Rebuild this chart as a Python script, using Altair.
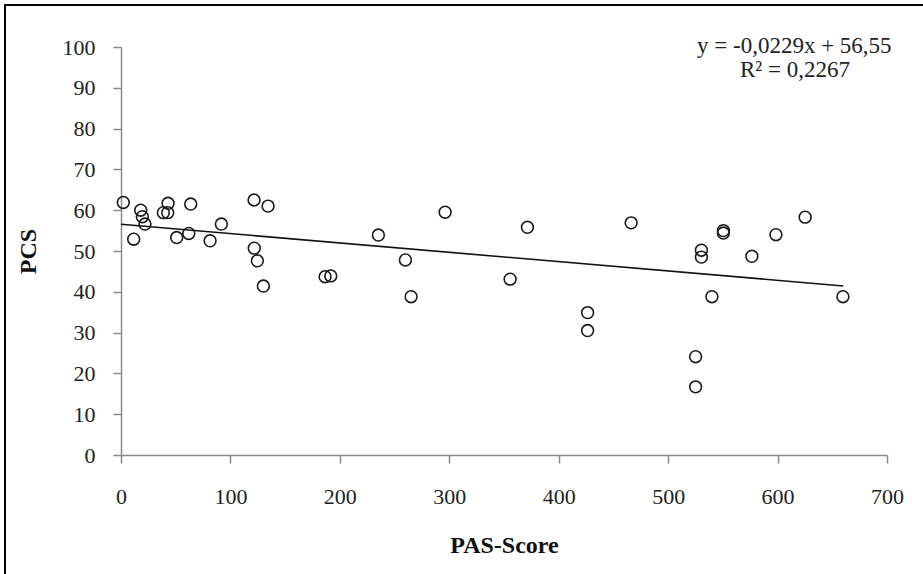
import altair as alt
import pandas as pd

# ---- data ----
pas_score = [2.1, 11.6, 18.0, 19.5, 21.9, 38.7, 43.0, 42.7, 50.9, 61.9,
             63.7, 81.4, 91.7, 121.6, 121.8, 124.6, 130.1, 134.4, 186.5, 191.7,
             235.2, 259.9, 265.1, 296.2, 355.6, 371.4, 426.4, 426.4, 466.2, 525.1,
             525.1, 530.4, 530.4, 540.0, 550.5, 550.5, 576.5, 598.5, 625.2, 659.7]
pcs = [61.9, 52.9, 60.0, 58.4, 56.6, 59.4, 61.7, 59.4, 53.3, 54.3,
       61.5, 52.5, 56.6, 62.5, 50.7, 47.6, 41.4, 61.0, 43.7, 43.9,
       53.9, 47.8, 38.8, 59.5, 43.1, 55.8, 34.9, 30.5, 56.9, 24.1,
       16.7, 50.2, 48.5, 38.8, 55.0, 54.4, 48.7, 54.0, 58.3, 38.8]

slope = -0.0229
intercept = 56.55
trend_x = [0, 660]
trend_y = [intercept + slope * v for v in trend_x]

x_ticks = [0, 100, 200, 300, 400, 500, 600, 700]
y_ticks = [0, 10, 20, 30, 40, 50, 60, 70, 80, 90, 100]
equation_text = ["y = -0,0229x + 56,55"]
r2_text = ["R\u00b2 = 0,2267"]

FONT = "Liberation Serif"

points_df = pd.DataFrame({"PAS": pas_score, "PCS": pcs})
trend_df = pd.DataFrame({"PAS": trend_x, "PCS": trend_y})

xscale = alt.Scale(domain=[0, 700], nice=False, zero=False)
yscale = alt.Scale(domain=[0, 100], nice=False, zero=False)

xaxis = alt.Axis(values=x_ticks, title="PAS-Score", grid=False, tickSize=8,
                 labelPadding=23, titlePadding=26, labelFlush=False)
yaxis = alt.Axis(values=y_ticks, title="PCS", grid=False, tickSize=8,
                 labelPadding=18, titlePadding=22)

pts = alt.Chart(points_df).mark_point(
    shape="circle", filled=False, size=140, strokeWidth=1.6, color="#1a1a1a", opacity=1
).encode(
    x=alt.X("PAS:Q", scale=xscale, axis=xaxis),
    y=alt.Y("PCS:Q", scale=yscale, axis=yaxis),
)

line = alt.Chart(trend_df).mark_line(color="#111111", strokeWidth=1.6).encode(
    x=alt.X("PAS:Q", scale=xscale),
    y=alt.Y("PCS:Q", scale=yscale),
)

eq = alt.Chart(pd.DataFrame({"t": equation_text})).mark_text(
    align="left", baseline="middle", font=FONT, fontSize=23, color="#222222"
).encode(text="t:N", x=alt.value(576), y=alt.value(-1))

r2 = alt.Chart(pd.DataFrame({"t": r2_text})).mark_text(
    align="left", baseline="middle", font=FONT, fontSize=23, color="#222222"
).encode(text="t:N", x=alt.value(619), y=alt.value(23))

frame_left = alt.Chart(pd.DataFrame({"a": [0]})).mark_rule(color="black", strokeWidth=2).encode(
    x=alt.value(-116), y=alt.value(-42), y2=alt.value(600)
)
frame_top = alt.Chart(pd.DataFrame({"a": [0]})).mark_rule(color="black", strokeWidth=2).encode(
    y=alt.value(-42), x=alt.value(-117), x2=alt.value(900)
)

chart = alt.layer(frame_left, frame_top, line, pts, eq, r2).properties(
    width=766, height=408,
    padding={"left": 121, "top": 47, "right": 36, "bottom": 119},
    autosize=alt.AutoSizeParams(type="none"),
    background="white",
).configure_view(stroke=None).configure_axis(
    domainColor="#8a8a8a", tickColor="#8a8a8a", domainWidth=1.5, tickWidth=1.5,
    labelFont=FONT, labelFontSize=22, labelColor="#222222",
    titleFont=FONT, titleFontSize=24, titleFontWeight="bold", titleColor="#111111",
)

chart.save("out.html", embed_options={"renderer": "svg", "actions": False})
